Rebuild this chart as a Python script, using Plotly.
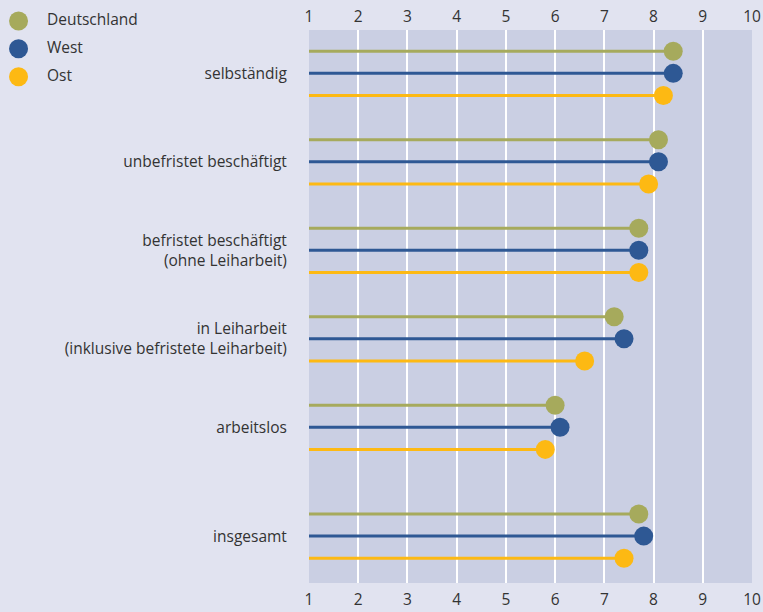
import plotly.graph_objects as go

categories = [
    "selbständig",
    "unbefristet beschäftigt",
    "befristet beschäftigt<br>(ohne Leiharbeit)",
    "in Leiharbeit<br>(inklusive befristete Leiharbeit)",
    "arbeitslos",
    "insgesamt",
]
# slot per group (insgesamt sits a bit further down)
group_pos = [0, 1, 2, 3, 4, 5.23]

deutschland = [8.4, 8.1, 7.7, 7.2, 6.0, 7.7]
west = [8.4, 8.1, 7.7, 7.4, 6.1, 7.8]
ost = [8.2, 7.9, 7.7, 6.6, 5.8, 7.4]

series = [
    ("Deutschland", deutschland, "#a6aa5c", -0.25),
    ("West", west, "#2e5894", 0.0),
    ("Ost", ost, "#fdb913", 0.25),
]

FONT = "Open Sans"
FSIZE = 15.5
TEXT = "#333333"
W, H = 763, 612

fig = go.Figure()

for name, vals, color, off in series:
    ys = [g + off for g in group_pos]
    lx, ly = [], []
    for v, y in zip(vals, ys):
        lx += [1, v, None]
        ly += [y, y, None]
    fig.add_trace(go.Scatter(x=lx, y=ly, mode="lines", line=dict(color=color, width=3),
                             showlegend=False, hoverinfo="skip"))
    fig.add_trace(go.Scatter(x=vals, y=ys, mode="markers", name=name,
                             marker=dict(color=color, size=19), showlegend=False))

# dummy trace so the top axis is drawn
fig.add_trace(go.Scatter(x=[1, 10], y=[0, 0], xaxis="x2", mode="markers",
                         marker=dict(opacity=0), showlegend=False, hoverinfo="skip"))

# hand-made legend in its own small subplot (top-left corner)
names = [s[0] for s in series]
colors = [s[2] for s in series]
rows = list(range(len(series)))
fig.add_trace(go.Scatter(x=[0] * len(rows), y=rows, xaxis="x3", yaxis="y3", mode="markers",
                         marker=dict(color=colors, size=19), showlegend=False, hoverinfo="skip"))
fig.add_trace(go.Scatter(x=[0.95] * len(rows), y=rows, xaxis="x3", yaxis="y3", mode="text",
                         text=names, textposition="middle right",
                         textfont=dict(family=FONT, size=FSIZE, color=TEXT),
                         showlegend=False, hoverinfo="skip"))

xaxis_common = dict(
    range=[1, 10],
    tickvals=list(range(1, 11)),
    showgrid=True,
    gridcolor="white",
    gridwidth=2,
    zeroline=False,
    showline=False,
    ticks="outside",
    tickcolor="rgba(0,0,0,0)",
    automargin=False,
    tickfont=dict(family=FONT, size=FSIZE, color=TEXT),
    domain=[309 / W, 752 / W],
)

hidden = dict(visible=False, showgrid=False, zeroline=False, fixedrange=True)

fig.update_layout(
    width=W,
    height=H,
    margin=dict(l=0, r=0, t=0, b=0),
    paper_bgcolor="#e1e3f0",
    plot_bgcolor="#cacfe3",
    font=dict(family=FONT, size=FSIZE, color=TEXT),
    showlegend=False,
    xaxis=dict(**xaxis_common, side="bottom", ticklen=2),
    xaxis2=dict(**xaxis_common, side="top", overlaying="x", matches="x", ticklen=1),
    yaxis=dict(
        range=[5.76, -0.49],
        domain=[1 - 583 / H, 1 - 30 / H],
        tickvals=group_pos,
        ticktext=categories,
        showgrid=False,
        zeroline=False,
        showline=False,
        ticks="outside",
        ticklen=18,
        tickcolor="rgba(0,0,0,0)",
        automargin=False,
        tickfont=dict(family=FONT, size=FSIZE, color=TEXT),
    ),
    xaxis3=dict(**hidden, domain=[0, 180 / W], range=[-0.62, 5.4]),
    yaxis3=dict(**hidden, domain=[1 - 92 / H, 1], range=[2.55, -0.75]),
)
fig.add_shape(type="rect", xref="x3 domain", yref="y3 domain", x0=0, x1=1, y0=0, y1=1,
              fillcolor="#e1e3f0", line_width=0, layer="below")

fig.write_html("out.html", config={"displayModeBar": False},
               post_script="document.body.style.margin='0';")
